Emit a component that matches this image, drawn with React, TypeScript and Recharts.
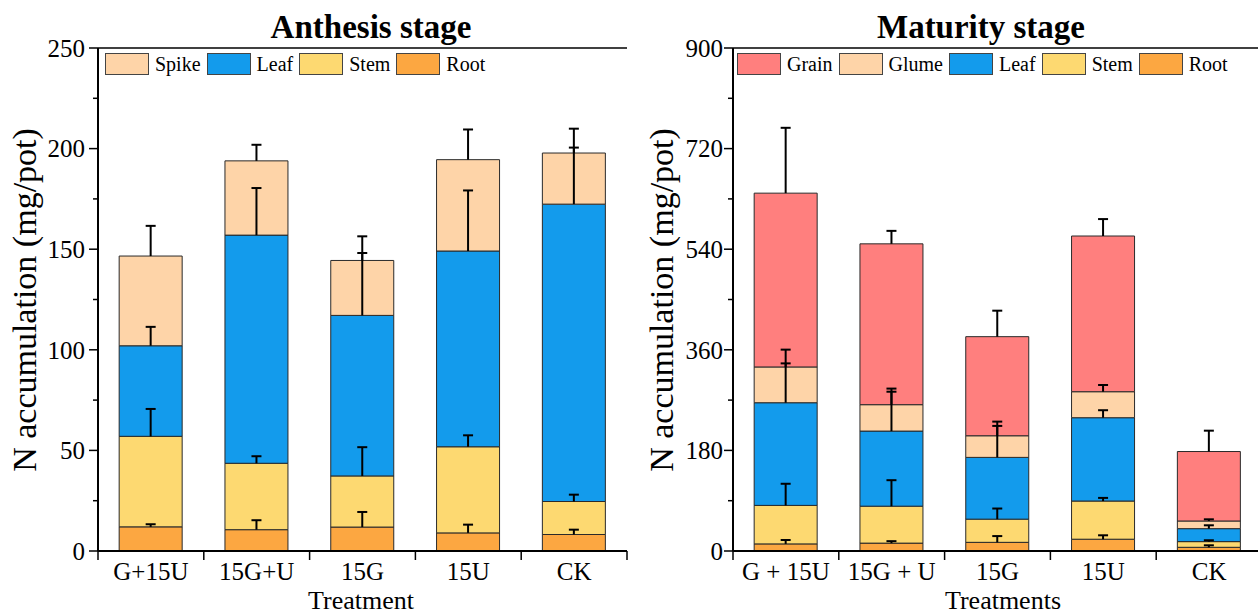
import React from 'react';
import { BarChart, Bar, XAxis, YAxis, ReferenceLine } from 'recharts';

const FONT = '"Liberation Serif", "Times New Roman", serif';

// Anthesis stage (segment sizes, bottom to top)
const anthesisTreatments = ['G+15U', '15G+U', '15G', '15U', 'CK'];
const anthesisRoot = [12, 10.6, 11.9, 9, 8.2];
const anthesisStem = [45, 33, 25.4, 42.8, 16.4];
const anthesisLeaf = [45, 113.4, 79.8, 97.3, 147.8];
const anthesisSpike = [44.6, 36.9, 27.3, 45.4, 25.4];
const anthesisRootErr = [1.3, 4.7, 7.5, 4.1, 2.4];
const anthesisStemErr = [13.6, 3.5, 14.3, 5.7, 3.4];
const anthesisLeafErr = [9.4, 23.4, 31, 30.1, 28.1];
const anthesisSpikeErr = [15, 8, 12, 15, 12.1];
const anthesisTicks = [0, 25, 50, 75, 100, 125, 150, 175, 200, 225, 250];
const anthesisMajor = [0, 50, 100, 150, 200, 250];

// Maturity stage
const maturityTreatments = ['G + 15U', '15G + U', '15G', '15U', 'CK'];
const maturityRoot = [12.7, 14.1, 15.5, 21.1, 6.6];
const maturityStem = [68.9, 66.1, 41.5, 68.3, 10.2];
const maturityLeaf = [183.7, 134.4, 110.5, 149.1, 23.2];
const maturityGlume = [64, 47.2, 38.7, 46.5, 13.7];
const maturityGrain = [311, 287.8, 177.3, 278.6, 124.3];
const maturityRootErr = [7, 3.5, 11.2, 7, 3.6];
const maturityStemErr = [38.7, 46.5, 19, 5.6, 2.4];
const maturityLeafErr = [70.4, 70.4, 56.3, 13.4, 6];
const maturityGlumeErr = [31, 28.8, 25.3, 12, 3];
const maturityGrainErr = [116.9, 23.2, 46.5, 30.3, 37.3];
const maturityTicks = [0, 90, 180, 270, 360, 450, 540, 630, 720, 810, 900];
const maturityMajor = [0, 180, 360, 540, 720, 900];

const PEACH = '#FED4A8';
const BLUE = '#139BEC';
const YELLOW = '#FDD971';
const ORANGE = '#FCA741';
const SALMON = '#FF7F7E';

type Series = { key: string; name: string; color: string; values: number[]; errors: number[] };

const anthesisSeries: Series[] = [
  { key: 'root', name: 'Root', color: ORANGE, values: anthesisRoot, errors: anthesisRootErr },
  { key: 'stem', name: 'Stem', color: YELLOW, values: anthesisStem, errors: anthesisStemErr },
  { key: 'leaf', name: 'Leaf', color: BLUE, values: anthesisLeaf, errors: anthesisLeafErr },
  { key: 'spike', name: 'Spike', color: PEACH, values: anthesisSpike, errors: anthesisSpikeErr },
];

const maturitySeries: Series[] = [
  { key: 'root', name: 'Root', color: ORANGE, values: maturityRoot, errors: maturityRootErr },
  { key: 'stem', name: 'Stem', color: YELLOW, values: maturityStem, errors: maturityStemErr },
  { key: 'leaf', name: 'Leaf', color: BLUE, values: maturityLeaf, errors: maturityLeafErr },
  { key: 'glume', name: 'Glume', color: PEACH, values: maturityGlume, errors: maturityGlumeErr },
  { key: 'grain', name: 'Grain', color: SALMON, values: maturityGrain, errors: maturityGrainErr },
];

function buildRows(cats: string[], series: Series[]) {
  return cats.map((name, i) => {
    const row: Record<string, any> = { name };
    series.forEach((s) => {
      row[s.key] = s.values[i];
      row[s.key + 'Err'] = s.errors[i];
    });
    return row;
  });
}

// upper-only error bar drawn from the stacked segment's own geometry
function errorShape(key: string) {
  return (props: any) => {
    const { x, y, width, height, payload } = props;
    const v = payload[key];
    const err = payload[key + 'Err'];
    if (!v || !height) return <g />;
    const len = (err * height) / v;
    const cx = x + width / 2;
    return (
      <g>
        <line x1={cx} x2={cx} y1={y} y2={y - len} stroke="#000" strokeWidth={2} />
        <line x1={cx - 5} x2={cx + 5} y1={y - len} y2={y - len} stroke="#000" strokeWidth={2} />
      </g>
    );
  };
}

interface PanelProps {
  left: number;
  width: number;
  yAxisWidth: number;
  marginRight: number;
  cats: string[];
  series: Series[];
  yMax: number;
  ticks: number[];
  major: number[];
  labelGap: number;
  title: string;
  titleX: number;
  xTitle: string;
  xTitleX: number;
  yTitle: string;
  yTitleX: number;
  legendLeft: number;
}

const PLOT_TOP = 48;
const CHART_H = 615;
const MARGIN_BOTTOM = 4;
const X_AXIS_H = 60;
const PLOT_BOTTOM = CHART_H - MARGIN_BOTTOM - X_AXIS_H;

function Panel(p: PanelProps) {
  const rows = buildRows(p.cats, p.series);
  const plotW = p.width - p.yAxisWidth - p.marginRight;
  const bw = plotW / p.cats.length;

  const renderYTick = (props: any) => {
    const { y, payload } = props;
    const isMajor = p.major.includes(payload.value);
    return (
      <g>
        <line x1={p.yAxisWidth - (isMajor ? 9 : 5)} x2={p.yAxisWidth} y1={y} y2={y} stroke="#000" strokeWidth={1.5} />
        {isMajor && (
          <text x={p.yAxisWidth - p.labelGap} y={y} dy="0.35em" textAnchor="end" fontFamily={FONT} fontSize={25} fill="#000">
            {payload.value}
          </text>
        )}
      </g>
    );
  };

  const renderXTick = (props: any) => {
    const { x, payload } = props;
    const idx = p.cats.indexOf(payload.value);
    return (
      <g>
        <line x1={x - bw / 2} x2={x - bw / 2} y1={PLOT_BOTTOM} y2={PLOT_BOTTOM + 9} stroke="#000" strokeWidth={1.5} />
        {idx === p.cats.length - 1 && (
          <line x1={x + bw / 2} x2={x + bw / 2} y1={PLOT_BOTTOM} y2={PLOT_BOTTOM + 9} stroke="#000" strokeWidth={1.5} />
        )}
        <text x={x} y={580} textAnchor="middle" fontFamily={FONT} fontSize={25} fill="#000">
          {payload.value}
        </text>
      </g>
    );
  };

  const legendItems = [...p.series].reverse();

  return (
    <div style={{ position: 'absolute', left: p.left, top: 0, width: p.width, height: CHART_H }}>
      <BarChart
        width={p.width}
        height={CHART_H}
        data={rows}
        margin={{ top: PLOT_TOP, right: p.marginRight, bottom: MARGIN_BOTTOM, left: 0 }}
        barCategoryGap="20%"
      >
        <XAxis
          dataKey="name"
          height={X_AXIS_H}
          interval={0}
          tickLine={false}
          axisLine={{ stroke: '#000', strokeWidth: 2 }}
          tick={renderXTick}
          label={() => (
            <text x={p.xTitleX} y={609} textAnchor="middle" fontFamily={FONT} fontSize={26} fill="#000">
              {p.xTitle}
            </text>
          )}
        />
        <XAxis xAxisId="e" dataKey="name" hide />
        <YAxis
          width={p.yAxisWidth}
          domain={[0, p.yMax]}
          ticks={p.ticks}
          interval={0}
          tickLine={false}
          axisLine={{ stroke: '#000', strokeWidth: 2 }}
          tick={renderYTick}
          label={() => (
            <text
              x={p.yTitleX}
              y={300}
              transform={`rotate(-90, ${p.yTitleX}, 300)`}
              textAnchor="middle"
              fontFamily={FONT}
              fontSize={34}
              fill="#000"
            >
              {p.yTitle}
            </text>
          )}
        />
        <YAxis yAxisId="r" orientation="right" width={0} tick={false} tickLine={false} axisLine={{ stroke: '#000', strokeWidth: 1.5 }} />
        <ReferenceLine
          y={p.yMax}
          stroke="#000"
          strokeWidth={1.5}
          label={() => (
            <text x={p.titleX} y={38} textAnchor="middle" fontFamily={FONT} fontSize={33} fontWeight="bold" fill="#000">
              {p.title}
            </text>
          )}
        />
        {p.series.map((s) => (
          <Bar key={s.key} dataKey={s.key} name={s.name} stackId="a" fill={s.color} stroke="#2a2a2a" strokeWidth={1} isAnimationActive={false} />
        ))}
        {p.series.map((s) => (
          <Bar
            key={s.key + 'E'}
            xAxisId="e"
            dataKey={s.key}
            stackId="e"
            fill="none"
            legendType="none"
            shape={errorShape(s.key)}
            isAnimationActive={false}
          />
        ))}
      </BarChart>
      <div
        style={{
          position: 'absolute',
          left: p.legendLeft,
          top: 53,
          display: 'flex',
          alignItems: 'center',
          fontFamily: FONT,
          fontSize: 20,
          lineHeight: '22px',
          color: '#000',
          whiteSpace: 'nowrap',
        }}
      >
        {legendItems.map((s) => (
          <div key={s.key} style={{ display: 'flex', alignItems: 'center', marginRight: 6 }}>
            <div style={{ width: 44, height: 22, boxSizing: 'border-box', background: s.color, border: '1px solid #444' }} />
            <span style={{ marginLeft: 6 }}>{s.name}</span>
          </div>
        ))}
      </div>
    </div>
  );
}

export default function App() {
  return (
    <div style={{ position: 'fixed', left: 0, top: 0, width: 1258, height: 615, overflow: 'hidden', background: '#fff' }}>
      <Panel
        left={0}
        width={640}
        yAxisWidth={98}
        marginRight={13}
        cats={anthesisTreatments}
        series={anthesisSeries}
        yMax={250}
        ticks={anthesisTicks}
        major={anthesisMajor}
        labelGap={13}
        title="Anthesis stage"
        titleX={371}
        xTitle="Treatment"
        xTitleX={361}
        yTitle="N accumulation (mg/pot)"
        yTitleX={36}
        legendLeft={105}
      />
      <Panel
        left={630}
        width={660}
        yAxisWidth={103}
        marginRight={28}
        cats={maturityTreatments}
        series={maturitySeries}
        yMax={900}
        ticks={maturityTicks}
        major={maturityMajor}
        labelGap={10}
        title="Maturity stage"
        titleX={351}
        xTitle="Treatments"
        xTitleX={373}
        yTitle="N accumulation (mg/pot)"
        yTitleX={43}
        legendLeft={107}
      />
    </div>
  );
}
